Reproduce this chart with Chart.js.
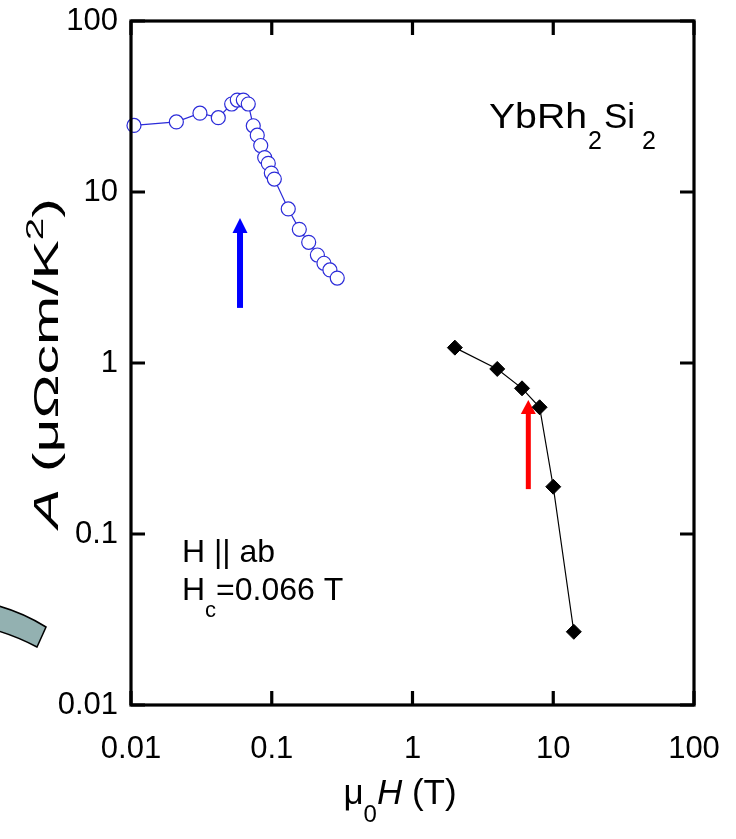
<!DOCTYPE html>
<html>
<head>
<meta charset="utf-8">
<script src="https://cdn.jsdelivr.net/npm/chart.js@4.4.0/dist/chart.umd.min.js"></script>
<style>
  body { margin: 0; background: #fff; }
  #wrap { width: 736px; height: 839px; }
</style>
</head>
<body>
<div id="wrap"><canvas id="chart" width="736" height="839"></canvas></div>
<script>
// H || ab, low field data (open circles)
const fieldAb = [0.0105, 0.021, 0.0309, 0.0417, 0.0519, 0.0569, 0.0628, 0.0681, 0.0739, 0.0789, 0.0835,
  0.0891, 0.0945, 0.0993, 0.1043, 0.131, 0.157, 0.183, 0.211, 0.235, 0.259, 0.292];
const coefAb = [24.5, 25.7, 28.9, 27.2, 32.7, 34.5, 34.5, 32.7, 24.4, 21.5, 18.7,
  15.9, 14.7, 12.9, 11.9, 7.96, 6.05, 5.08, 4.28, 3.83, 3.5, 3.14];
// high field data (filled diamonds)
const fieldHigh = [2, 4, 6, 8, 10, 14];
const coefHigh = [1.23, 0.923, 0.711, 0.551, 0.189, 0.0268];

const xTicks = [0.01, 0.1, 1, 10, 100];
const yTicks = [0.01, 0.1, 1, 10, 100];
const tickLabels = ["0.01", "0.1", "1", "10", "100"];

// arrows: [field, A from, A to]
const blueArrow = [0.0595, 2.1, 7.05];
const redArrow = [6.65, 0.183, 0.608];

const FONT = '"Liberation Sans", Arial, sans-serif';
const BLUE = "#2b2bd9";

function toPoints(xs, ys) {
  return xs.map((v, i) => ({ x: v, y: ys[i] }));
}

function drawRuns(ctx, x, y, runs) {
  let cx = x;
  runs.forEach((r) => {
    ctx.font = r.font;
    ctx.fillText(r.t, cx, y + (r.dy || 0));
    cx += ctx.measureText(r.t).width + (r.gap || 0);
  });
}

function runsWidth(ctx, runs) {
  let w = 0;
  runs.forEach((r) => {
    ctx.font = r.font;
    w += ctx.measureText(r.t).width + (r.gap || 0);
  });
  return w;
}

function drawArrow(ctx, px, yFrom, yTo, color, shaft, headW, headH) {
  ctx.fillStyle = color;
  ctx.fillRect(px - shaft / 2, yTo + headH - 1, shaft, yFrom - yTo - headH + 1);
  ctx.beginPath();
  ctx.moveTo(px, yTo);
  ctx.lineTo(px + headW / 2, yTo + headH);
  ctx.lineTo(px - headW / 2, yTo + headH);
  ctx.closePath();
  ctx.fill();
}

const decor = {
  id: "decor",
  beforeDatasetsDraw(chart) {
    const { ctx, scales: { x, y } } = chart;
    ctx.save();
    drawArrow(ctx, x.getPixelForValue(blueArrow[0]), y.getPixelForValue(blueArrow[1]),
      y.getPixelForValue(blueArrow[2]), "#0000ff", 6, 15, 15);
    drawArrow(ctx, x.getPixelForValue(redArrow[0]), y.getPixelForValue(redArrow[1]),
      y.getPixelForValue(redArrow[2]), "#ff0000", 5, 15, 14);
    ctx.restore();
  },
  afterDraw(chart) {
    const { ctx, chartArea: a, scales: { x, y } } = chart;
    ctx.save();

    // frame + inward ticks
    ctx.strokeStyle = "#000";
    ctx.lineWidth = 3.2;
    ctx.strokeRect(a.left, a.top, a.right - a.left, a.bottom - a.top);
    ctx.beginPath();
    xTicks.forEach((v) => {
      const px = x.getPixelForValue(v);
      ctx.moveTo(px, a.bottom); ctx.lineTo(px, a.bottom - 14);
      ctx.moveTo(px, a.top); ctx.lineTo(px, a.top + 14);
    });
    yTicks.forEach((v) => {
      const py = y.getPixelForValue(v);
      ctx.moveTo(a.left, py); ctx.lineTo(a.left + 14, py);
      ctx.moveTo(a.right, py); ctx.lineTo(a.right - 14, py);
    });
    ctx.stroke();

    ctx.fillStyle = "#000";
    ctx.textBaseline = "alphabetic";

    // compound label (slightly widened like the original)
    ctx.save();
    ctx.font = "35px " + FONT;
    ctx.textAlign = "right";
    ctx.translate(587, 128);
    ctx.scale(1.12, 1);
    ctx.fillText("YbRh", 0, 0);
    ctx.restore();
    ctx.textAlign = "left";
    ctx.font = "25px " + FONT;
    ctx.fillText("2", 588, 149);
    ctx.font = "35px " + FONT;
    ctx.fillText("Si", 604, 128);
    ctx.font = "25px " + FONT;
    ctx.fillText("2", 642, 149);

    // field direction note
    ctx.font = "32px " + FONT;
    ctx.fillText("H || ab", 182, 562);
    drawRuns(ctx, 182, 600, [
      { t: "H", font: "32px " + FONT },
      { t: "c", font: "22px " + FONT, dy: 17 },
      { t: "=0.066 T", font: "32px " + FONT }
    ]);

    // x title
    const xRuns = [
      { t: "μ", font: "35px " + FONT },
      { t: "0", font: "24px " + FONT, dy: 18 },
      { t: "H", font: "italic 35px " + FONT },
      { t: " (T)", font: "35px " + FONT }
    ];
    const xw = runsWidth(ctx, xRuns);
    drawRuns(ctx, 400 - xw / 2, 804, xRuns);

    // y title
    const yRuns = [
      { t: "A", font: "italic 35px " + FONT },
      { t: " (μΩcm/K", font: "35px " + FONT },
      { t: "2", font: "24px " + FONT, dy: -15 },
      { t: ")", font: "35px " + FONT }
    ];
    const yw = runsWidth(ctx, yRuns);
    const yLen = 330;
    ctx.save();
    ctx.translate(58, (a.top + a.bottom) / 2);
    ctx.rotate(-Math.PI / 2);
    ctx.scale(yLen / yw, 1);
    drawRuns(ctx, -yw / 2, 0, yRuns);
    ctx.restore();

    // cropped piece of a neighbouring panel at the left edge
    ctx.beginPath();
    ctx.moveTo(-5, 605);
    ctx.quadraticCurveTo(22, 612, 46, 627);
    ctx.lineTo(37, 647);
    ctx.quadraticCurveTo(16, 636, -5, 630);
    ctx.closePath();
    ctx.fillStyle = "#93b1b1";
    ctx.fill();
    ctx.strokeStyle = "#000";
    ctx.lineWidth = 1.5;
    ctx.stroke();

    ctx.restore();
  }
};

function decadeTicks(list) {
  return (scale) => {
    scale.ticks = list.map((v) => ({ value: v }));
  };
}

new Chart(document.getElementById("chart"), {
  type: "line",
  data: {
    datasets: [
      {
        data: toPoints(fieldAb, coefAb),
        borderColor: BLUE,
        borderWidth: 1.2,
        pointStyle: "circle",
        pointRadius: 7,
        pointBackgroundColor: "#fff",
        pointBorderColor: BLUE,
        pointBorderWidth: 1.2,
        clip: false
      },
      {
        data: toPoints(fieldHigh, coefHigh),
        borderColor: "#000",
        borderWidth: 1.2,
        pointStyle: "rectRot",
        pointRadius: 7.5,
        pointBackgroundColor: "#000",
        pointBorderColor: "#000",
        pointBorderWidth: 1,
        clip: false
      }
    ]
  },
  options: {
    responsive: false,
    animation: false,
    layout: { padding: { left: 0, top: 21, right: 42, bottom: 0 } },
    plugins: { legend: { display: false }, tooltip: { enabled: false } },
    scales: {
      x: {
        type: "logarithmic",
        min: 0.01,
        max: 100,
        afterBuildTicks: decadeTicks(xTicks),
        afterFit: (s) => { s.height = 134; s.paddingLeft = 0; s.paddingRight = 0; },
        grid: { display: false, drawTicks: false },
        border: { display: false },
        ticks: {
          autoSkip: false,
          maxRotation: 0,
          padding: 26,
          color: "#000",
          font: { family: FONT, size: 31 },
          callback: (v) => tickLabels[xTicks.indexOf(v)] ?? ""
        }
      },
      y: {
        type: "logarithmic",
        min: 0.01,
        max: 100,
        afterBuildTicks: decadeTicks(yTicks),
        afterFit: (s) => { s.width = 131; s.paddingTop = 0; s.paddingBottom = 0; },
        grid: { display: false, drawTicks: false },
        border: { display: false },
        ticks: {
          autoSkip: false,
          padding: 13,
          color: "#000",
          font: { family: FONT, size: 31 },
          callback: (v) => tickLabels[yTicks.indexOf(v)] ?? ""
        }
      }
    }
  },
  plugins: [decor]
});
</script>
</body>
</html>
